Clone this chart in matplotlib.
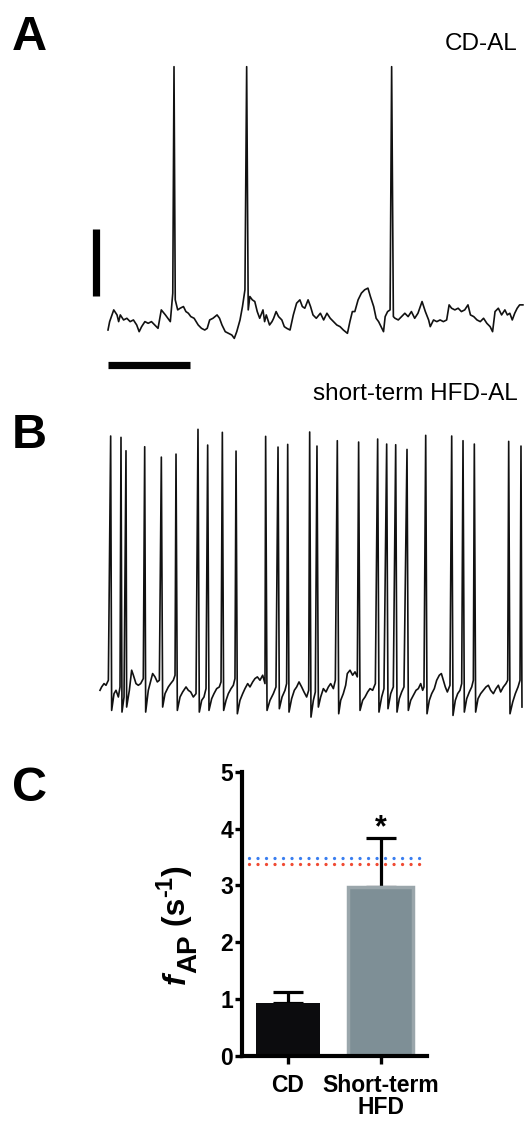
import matplotlib
matplotlib.use('Agg')
import matplotlib.pyplot as plt
import numpy as np

plt.rcParams['font.family'] = ['Liberation Sans', 'DejaVu Sans']

W, H = 528, 1122

# ---- panel A: CD-AL trace (time in s, membrane potential in mV) ----
a_t = [0.00, 0.02, 0.07, 0.11, 0.13, 0.15, 0.19, 0.23, 0.27, 0.31,
       0.35, 0.38, 0.41, 0.45, 0.49, 0.53, 0.57, 0.61, 0.65, 0.70,
       0.76, 0.79, 0.82, 0.85, 0.88, 0.92, 0.95, 0.98, 1.01, 1.05,
       1.10, 1.14, 1.18, 1.21, 1.24, 1.28, 1.33, 1.36, 1.39, 1.43,
       1.47, 1.51, 1.54, 1.57, 1.61, 1.64, 1.67, 1.71, 1.73, 1.76,
       1.79, 1.82, 1.85, 1.89, 1.91, 1.93, 1.97, 2.00, 2.02, 2.05,
       2.08, 2.12, 2.15, 2.18, 2.22, 2.26, 2.30, 2.34, 2.37, 2.40,
       2.44, 2.47, 2.50, 2.54, 2.59, 2.63, 2.67, 2.71, 2.75, 2.79,
       2.83, 2.87, 2.92, 2.95, 2.98, 3.01, 3.05, 3.09, 3.13, 3.17,
       3.20, 3.24, 3.27, 3.30, 3.33, 3.36, 3.38, 3.41, 3.44, 3.48,
       3.50, 3.54, 3.58, 3.62, 3.66, 3.70, 3.74, 3.78, 3.83, 3.87,
       3.91, 3.93, 3.97, 4.01, 4.05, 4.09, 4.13, 4.16, 4.19, 4.23,
       4.27, 4.31, 4.35, 4.39, 4.42, 4.46, 4.50, 4.54, 4.58, 4.62,
       4.66, 4.69, 4.72, 4.76, 4.80, 4.84, 4.87, 4.90, 4.93, 4.96,
       4.99, 5.02, 5.06]
a_v = [-60, -57.5, -54, -55.5, -57.5, -55.5, -57, -56.5, -57.5, -57,
       -58.5, -60.5, -59, -57.5, -58, -57.5, -58.5, -59.5, -54, -55.5,
       -57.5, -49, -51, -54, -53.5, -53, -54.5, -55, -56, -56.5,
       -58.5, -59.5, -60, -59.5, -57, -56.5, -55.5, -56.5, -58.5, -60.5,
       -61, -61.5, -62.5, -60.5, -57, -53, -48, -54, -50, -51,
       -51.5, -54.5, -56.5, -54, -57.5, -55.5, -58.5, -57.5, -56.5, -54.5,
       -56, -57, -59, -59.5, -60, -55.5, -52, -51, -53, -53.5,
       -51, -53, -55.5, -56.5, -55, -57, -55, -56.5, -57.5, -58.5,
       -59, -60, -61, -57.5, -54.5, -54.5, -51, -49, -48, -47.5,
       -50, -53, -56.5, -57.5, -59, -60.5, -56, -54.5, -54, -56,
       -56.5, -57, -56, -55, -56, -54.5, -56.5, -55, -51.5, -54.5,
       -57, -59, -57, -57.5, -57, -57.5, -57, -52.5, -53.5, -54,
       -53.5, -54.5, -54, -52.5, -55.5, -56, -57, -57.5, -56.5, -58,
       -59, -60.5, -54.5, -53.5, -55.5, -54, -55.5, -55, -57, -55,
       -53.5, -52.5, -52.5]
a_spike_t = [0.805, 1.691, 3.459]
a_spike_v = [18.6, 18.6, 18.6]

# ---- panel B: short-term HFD-AL trace ----
b_spike_t = [0.130, 0.256, 0.317, 0.545, 0.748, 0.927, 1.195, 1.313, 1.492,
             1.659, 2.020, 2.171, 2.289, 2.557, 2.646, 2.894, 3.154, 3.386,
             3.496, 3.606, 3.744, 3.972, 4.289, 4.427, 4.565, 4.984, 5.134]
b_spike_v = [17.9, 17.5, 13.5, 14.7, 11.6, 12.5, 19.9, 15.2, 19.0,
             13.4, 17.8, 14.6, 15.4, 19.1, 14.9, 16.5, 16.1, 17.0,
             15.5, 15.3, 13.9, 18.1, 17.9, 16.5, 15.5, 16.3, 14.9]
b_t = [0.000, 0.020, 0.049, 0.073, 0.102,
       0.142, 0.171, 0.195, 0.224, 0.244,
       0.268, 0.293,
       0.325, 0.358, 0.386, 0.407, 0.439, 0.467, 0.496, 0.528,
       0.557, 0.589, 0.610, 0.642, 0.671, 0.699, 0.724,
       0.764, 0.793, 0.833, 0.862, 0.894, 0.915,
       0.943, 0.976, 1.008, 1.049, 1.077, 1.106, 1.138, 1.171,
       1.211, 1.240, 1.268, 1.293,
       1.329, 1.362, 1.390, 1.423, 1.455, 1.476,
       1.508, 1.537, 1.565, 1.598, 1.626, 1.646,
       1.675, 1.707, 1.740, 1.768, 1.801, 1.829, 1.862, 1.890, 1.919, 1.951, 1.984, 2.012,
       2.037, 2.073, 2.114, 2.146,
       2.187, 2.220, 2.256, 2.276,
       2.305, 2.337, 2.370, 2.398, 2.427, 2.459, 2.488, 2.520, 2.545,
       2.573, 2.602, 2.626,
       2.663, 2.691, 2.724, 2.756, 2.785, 2.813, 2.846, 2.870,
       2.911, 2.935, 2.967, 2.996, 3.016, 3.049, 3.081, 3.110, 3.138,
       3.171, 3.203, 3.232, 3.264, 3.293, 3.325, 3.358,
       3.402, 3.435, 3.463,
       3.512, 3.545, 3.577,
       3.622, 3.650, 3.679, 3.707,
       3.760, 3.789, 3.821, 3.854, 3.882, 3.911, 3.935, 3.951,
       3.988, 4.016, 4.045, 4.077, 4.106, 4.138, 4.163, 4.187, 4.211, 4.236, 4.268,
       4.305, 4.333, 4.362, 4.390, 4.411,
       4.443, 4.472, 4.504, 4.533, 4.553,
       4.581, 4.610, 4.642, 4.675, 4.707, 4.736, 4.764, 4.797, 4.829, 4.858, 4.886, 4.919, 4.951, 4.972,
       5.000, 5.033, 5.065, 5.098, 5.122,
       5.146]
b_v = [-58.0, -57.0, -56.0, -56.5, -55.0,
       -64.0, -59.0, -58.0, -60.0, -57.0,
       -64.5, -60.0,
       -63.0, -58.0, -52.0, -53.5, -56.0, -56.5, -56.0, -54.5,
       -64.5, -58.0, -56.0, -53.0, -54.0, -55.5, -55.0,
       -63.0, -59.0, -57.0, -56.0, -55.0, -53.5,
       -64.0, -60.0, -58.5, -57.0, -58.0, -58.5, -60.0, -59.0,
       -64.5, -61.0, -60.0, -57.5,
       -64.0, -60.5, -59.0, -57.5, -57.0, -55.5,
       -64.0, -61.0, -59.0, -57.5, -56.5, -54.5,
       -65.0, -61.0, -59.0, -57.5, -56.0, -57.0, -55.5, -54.5, -54.0, -55.0, -53.5, -56.0,
       -64.0, -61.0, -59.0, -57.0,
       -63.5, -60.0, -58.0, -56.0,
       -64.5, -60.5, -58.0, -57.0, -55.5, -57.0, -58.5, -60.0, -58.0,
       -66.0, -61.0, -58.5,
       -63.0, -60.0, -57.5, -58.5, -57.0, -56.0, -57.5, -55.0,
       -65.0, -61.0, -59.0, -56.5, -53.0, -52.0, -53.5, -52.5, -54.0,
       -64.0, -61.0, -60.0, -58.5, -57.5, -58.0, -56.0,
       -64.5, -60.0, -57.5,
       -63.5, -59.0, -57.0,
       -64.5, -60.5, -58.5, -57.0,
       -64.0, -61.0, -59.5, -58.0, -57.5, -56.0, -58.0, -57.0,
       -65.0, -61.0, -59.0, -57.5, -55.0, -53.5, -53.0, -55.0, -57.0, -58.5, -56.5,
       -65.5, -61.0, -59.0, -58.0, -56.0,
       -64.5, -60.5, -58.5, -57.0, -55.0,
       -64.5, -60.5, -59.0, -58.0, -57.0, -56.5, -58.0, -59.0, -57.5, -56.5, -58.5, -57.0, -56.0, -55.0,
       -65.0, -61.5, -59.0, -57.0, -55.0,
       -63.0]

# ---- panel C: firing rate ----
groups = ['CD', 'Short-term\nHFD']
rates = [0.93, 2.97]
sem = [0.20, 0.87]
ref_blue = 3.49
ref_red = 3.38

# scale bars
bar_mv = 20
bar_s = 1


def merge(t, v, st, sv):
    tt = np.concatenate([t, st])
    vv = np.concatenate([v, sv])
    order = np.argsort(tt, kind='stable')
    return tt[order], vv[order]


def px_rect(x0, y0, x1, y1):
    return [x0 / W, 1 - y1 / H, (x1 - x0) / W, (y1 - y0) / H]


def ftext(x, y, s, **kw):
    return fig.text(x / W, 1 - y / H, s, **kw)


fig = plt.figure(figsize=(W / 100, H / 100), dpi=100)
PX_S = 82.0
PX_MV = 67.0 / 20

trace_kw = dict(color='#111111', lw=1.2, solid_joinstyle='round')

# A
axA = fig.add_axes(px_rect(80, 50, 528, 380))
tA, vA = merge(np.array(a_t), np.array(a_v), np.array(a_spike_t), np.array(a_spike_v))
axA.plot(tA, vA, **trace_kw)
axA.set_xlim((80 - 108) / PX_S, (528 - 108) / PX_S)
axA.set_ylim(-60 - (380 - 330) / PX_MV, -60 + (330 - 50) / PX_MV)
axA.plot([-0.152, -0.152], [-50, -50 + bar_mv], color='black', lw=5.2, solid_capstyle='butt')
axA.plot([0, bar_s], [-70.4, -70.4], color='black', lw=5.2, solid_capstyle='butt')
axA.axis('off')

# B
axB = fig.add_axes(px_rect(95, 415, 528, 725))
tB, vB = merge(np.array(b_t), np.array(b_v), np.array(b_spike_t), np.array(b_spike_v))
axB.plot(tB, vB, **trace_kw)
axB.set_xlim((95 - 100) / PX_S, (528 - 100) / PX_S)
axB.set_ylim(-60 - (725 - 697) / PX_MV, -60 + (697 - 415) / PX_MV)
axB.axis('off')

# panel letters / titles
for letter, yb in [('A', 50), ('B', 448), ('C', 801)]:
    ftext(12, yb, letter, fontsize=35, fontweight='bold', va='baseline', ha='left')
ftext(518, 50, 'CD-AL', fontsize=17.5, ha='right', va='baseline')
ftext(518, 400, 'short-term HFD-AL', fontsize=17.5, ha='right', va='baseline')

# C
axC = fig.add_axes(px_rect(241.7, 771.7, 427, 1056))
x = np.arange(len(groups))
axC.bar(x, rates, width=0.7, color=['#0c0c0e', '#7e8f96'],
        edgecolor=['#0c0c0e', '#9aa6ab'], linewidth=[0, 2.5], zorder=2)
axC.errorbar(x, rates, yerr=[[0, 0], sem], fmt='none', ecolor='black',
             elinewidth=2.3, capsize=10.5, capthick=2.3, zorder=1)
axC.axhline(ref_blue, xmin=0.04, xmax=1.0, color='#3a7ef0', lw=2.4,
            linestyle=(0, (0.001, 2.55)), dash_capstyle='round', zorder=3)
axC.axhline(ref_red, xmin=0.04, xmax=1.0, color='#f04a32', lw=2.4,
            linestyle=(0, (0.001, 2.55)), dash_capstyle='round', zorder=3)
axC.annotate('*', xy=(1, rates[1] + sem[1]), xytext=(0, 1.3),
             textcoords='offset points', ha='center', va='baseline',
             fontsize=22, fontweight='bold')
axC.set_xlim(-0.5, 1.5)
axC.set_ylim(0, 5)
axC.set_yticks([0, 1, 2, 3, 4, 5])
axC.set_xticks(x)
axC.set_xticklabels(groups, fontsize=16.5, fontweight='bold', linespacing=0.95)
for lbl in axC.get_yticklabels():
    lbl.set_fontweight('bold')
    lbl.set_fontsize(16.5)
for side in ['top', 'right']:
    axC.spines[side].set_visible(False)
for side in ['left', 'bottom']:
    axC.spines[side].set_linewidth(3)
axC.tick_params(axis='y', length=5, width=2.4, pad=1)
axC.tick_params(axis='x', length=6, width=2.4, pad=7)

# y label built from pieces: f (italic) + AP (lowered) + (s + -1 (raised) + )
renderer = fig.canvas.get_renderer()
pieces = [('f', 'italic', 23, 0), ('AP', 'normal', 20, 11),
          (' (s', 'normal', 23, 0), ('-1', 'normal', 17, -13), (')', 'normal', 23, 0)]
ycur = 984
for s, st, fs, dx in pieces:
    t = ftext(185 + dx, ycur, s, rotation=90, rotation_mode='anchor',
              ha='left', va='baseline', fontsize=fs, fontweight='bold', style=st)
    bb = t.get_window_extent(renderer)
    ycur = H - bb.y1

fig.savefig('out.png', dpi=100)
